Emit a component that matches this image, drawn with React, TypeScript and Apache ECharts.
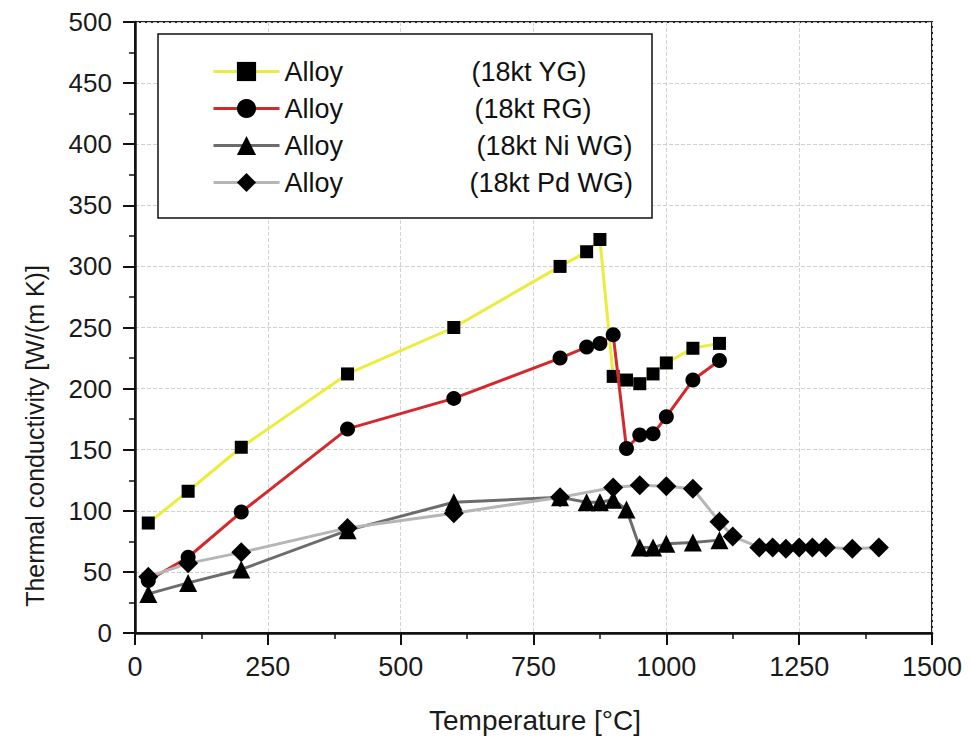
import React, { useEffect, useRef } from "react";
import * as echarts from "echarts";

const seriesNames = ["Alloy (18kt YG)", "Alloy (18kt RG)", "Alloy (18kt Ni WG)", "Alloy (18kt Pd WG)"];
const seriesSuffix = ["(18kt YG)", "(18kt RG)", "(18kt Ni WG)", "(18kt Pd WG)"];

const ygData: [number, number][] = [
  [25, 90], [100, 116], [200, 152], [400, 212], [600, 250], [800, 300], [850, 312], [875, 322],
  [900, 210], [925, 207], [950, 204], [975, 212], [1000, 221], [1050, 233], [1100, 237],
];
const rgData: [number, number][] = [
  [25, 43], [100, 62], [200, 99], [400, 167], [600, 192], [800, 225], [850, 234], [875, 237],
  [900, 244], [925, 151], [950, 162], [975, 163], [1000, 177], [1050, 207], [1100, 223],
];
const niwgData: [number, number][] = [
  [25, 32], [100, 41], [200, 52], [400, 84], [600, 107], [800, 111], [850, 107], [875, 107],
  [900, 109], [925, 101], [950, 70], [975, 70], [1000, 73], [1050, 74], [1100, 76],
];
const pdwgData: [number, number][] = [
  [25, 46], [100, 57], [200, 66], [400, 86], [600, 98], [800, 111], [900, 119], [950, 121],
  [1000, 120], [1050, 118], [1100, 91], [1125, 79], [1175, 70], [1200, 70], [1225, 69],
  [1250, 70], [1275, 70], [1300, 70], [1350, 69], [1400, 70],
];

const FONT = '"Liberation Sans", Arial, sans-serif';

export default function App() {
  const ref = useRef<HTMLDivElement>(null);
  useEffect(() => {
    document.body.style.margin = "0";
    if (!ref.current) return;
    const chart = echarts.init(ref.current, undefined, { renderer: "svg" });
    const lineColors = ["#ecec3c", "#d3282c", "#6c6c6c", "#b6b6b6"];
    const symbols = ["rect", "circle", "triangle", "diamond"];
    const symbolSizes = [13, 15, 18, 20];
    const datas = [ygData, rgData, niwgData, pdwgData];
    const series = datas.map((d, i) => ({
      name: seriesNames[i],
      type: "line",
      data: d,
      symbol: symbols[i],
      symbolSize: symbolSizes[i],
      showSymbol: true,
      lineStyle: { color: lineColors[i], width: 3 },
      itemStyle: { color: "#000" },
      z: 2 + i,
    }));
    const aWidths = [187, 190, 192, 185];
    const LF = 27;
    const plain = (v: number) => String(v);
    chart.setOption({
      animation: false,
      backgroundColor: "#fff",
      grid: {
        left: 135,
        right: 39,
        top: 22,
        bottom: 110,
        show: true,
        borderColor: "#222",
        borderWidth: 2,
        backgroundColor: "transparent",
      },
      xAxis: {
        type: "value",
        min: 0,
        max: 1500,
        interval: 250,
        axisLine: { show: true, lineStyle: { color: "#111", width: 2.5 } },
        axisTick: { show: true, inside: false, length: 12, lineStyle: { color: "#111", width: 2 } },
        minorTick: { show: true, splitNumber: 2, length: 6, lineStyle: { color: "#111", width: 1.5 } },
        splitLine: { show: true, lineStyle: { color: "#d2d2d2", type: "dashed", width: 1 } },
        axisLabel: { margin: 20, fontSize: 27, fontFamily: FONT, color: "#1a1a1a", formatter: plain },
      },
      yAxis: {
        type: "value",
        min: 0,
        max: 500,
        interval: 50,
        axisLine: { show: true, lineStyle: { color: "#111", width: 2.5 } },
        axisTick: { show: true, inside: false, length: 12, lineStyle: { color: "#111", width: 2 } },
        minorTick: { show: true, splitNumber: 2, length: 6, lineStyle: { color: "#111", width: 1.5 } },
        splitLine: { show: true, lineStyle: { color: "#d2d2d2", type: "dashed", width: 1 } },
        axisLabel: { margin: 23, fontSize: 26, fontFamily: FONT, color: "#1a1a1a", formatter: plain },
      },
      legend: {
        orient: "vertical",
        left: 212,
        top: 58,
        padding: 0,
        itemGap: 10,
        itemWidth: 66,
        itemHeight: 24,
        selectedMode: false,
        z: 10,
        data: seriesNames,
        lineStyle: { width: 3 },
        formatter: (name: string) => {
          const i = seriesNames.indexOf(name);
          return `{a${i}|Alloy}{b|${seriesSuffix[i]}}`;
        },
        textStyle: {
          fontFamily: FONT,
          fontSize: LF,
          color: "#111",
          rich: {
            a0: { width: aWidths[0], fontSize: LF, fontFamily: FONT, lineHeight: 26, color: "#111" },
            a1: { width: aWidths[1], fontSize: LF, fontFamily: FONT, lineHeight: 26, color: "#111" },
            a2: { width: aWidths[2], fontSize: LF, fontFamily: FONT, lineHeight: 26, color: "#111" },
            a3: { width: aWidths[3], fontSize: LF, fontFamily: FONT, lineHeight: 26, color: "#111" },
            b: { fontSize: LF, fontFamily: FONT, lineHeight: 26, color: "#111" },
          },
        },
      },
      graphic: [
        {
          type: "rect",
          z: 8,
          shape: { x: 158, y: 34, width: 494, height: 184 },
          style: { fill: "#fff", stroke: "#111", lineWidth: 1.5 },
        },
        {
          type: "text",
          x: 35,
          y: 436,
          rotation: Math.PI / 2,
          style: {
            text: "Thermal conductivity [W/(m K)]",
            font: `25px ${FONT}`,
            textAlign: "center",
            textVerticalAlign: "middle",
            fill: "#1a1a1a",
          },
        },
        {
          type: "text",
          x: 535,
          y: 720,
          style: {
            text: "Temperature [°C]",
            font: `28px ${FONT}`,
            textAlign: "center",
            textVerticalAlign: "middle",
            fill: "#1a1a1a",
          },
        },
      ],
      series,
    });
    return () => chart.dispose();
  }, []);
  return <div ref={ref} style={{ width: 971, height: 743 }} />;
}
